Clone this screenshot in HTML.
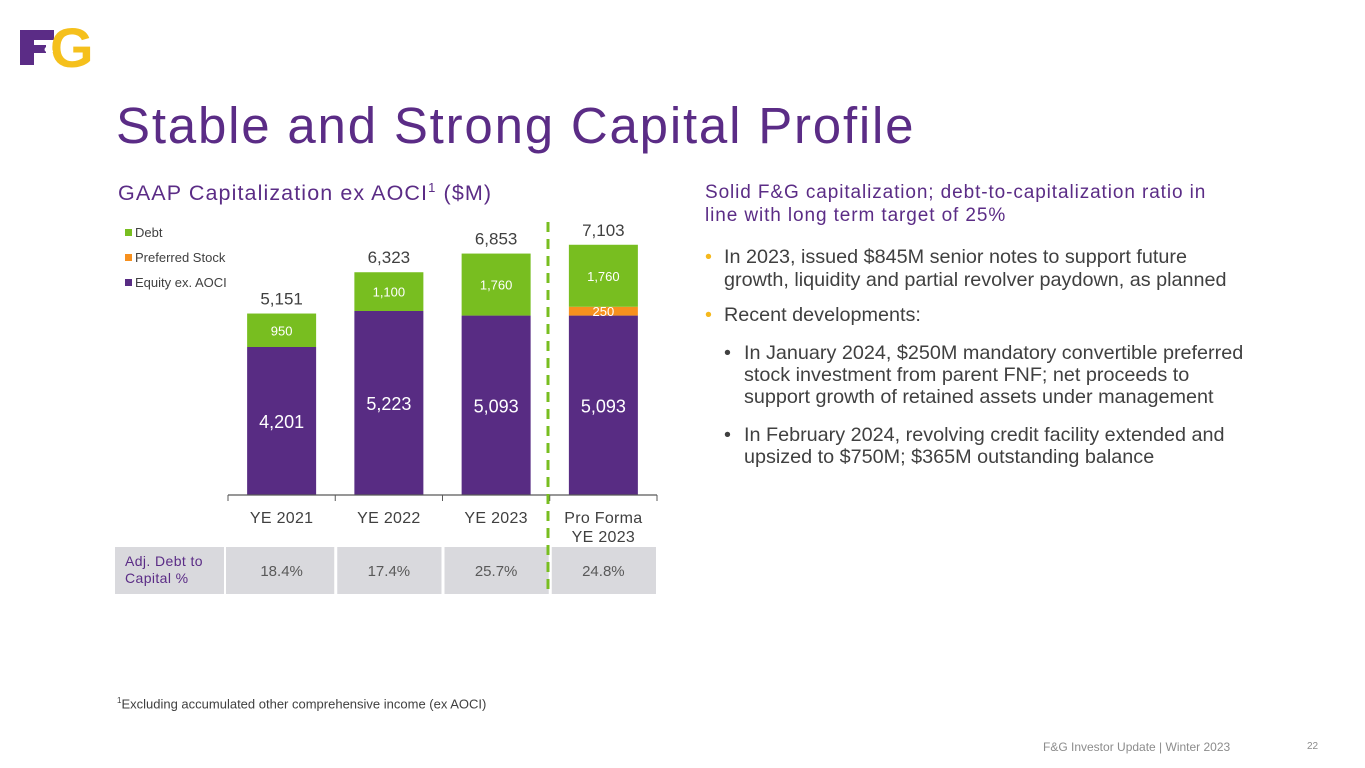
<!DOCTYPE html>
<html><head><meta charset="utf-8"><style>
body{margin:0;width:1365px;height:768px;background:#fff;position:relative;overflow:hidden;font-family:"Liberation Sans",sans-serif}
.a{position:absolute;white-space:nowrap}
.p{color:#5b2c86}
.g{color:#404040}
</style></head><body>
<div class="a" style="left:20px;top:14px;width:70px;height:54px">
 <div style="position:absolute;left:0;top:16px;width:14px;height:35px;background:#5b2c86"></div>
 <div style="position:absolute;left:0;top:16px;width:34px;height:10px;background:#5b2c86"></div>
 <div style="position:absolute;left:0;top:31px;width:26px;height:8px;background:#5b2c86"></div>
 <div style="position:absolute;left:30px;top:6px;font:bold 56px 'Liberation Sans',sans-serif;color:#f5c01c;line-height:56px">G</div>
 <div style="position:absolute;left:24px;top:26px;font:bold 13px 'Liberation Sans',sans-serif;color:#fff">&amp;</div>
</div>
<div class="a p" style="left:116px;top:96px;font-size:51px;letter-spacing:1.8px">Stable and Strong Capital Profile</div>
<div class="a p" style="left:118px;top:180px;font-size:21.5px;letter-spacing:1.1px">GAAP Capitalization ex AOCI<sup style="font-size:13px">1</sup> ($M)</div>

<svg class="a" style="left:0;top:0" width="700" height="620" id="chart"></svg>

<div class="a" style="left:115px;top:547px;width:541px;height:47px">
 <div class="a p" style="left:0;top:0;width:109px;height:47px;background:#d9d9dd;font-size:14px;line-height:17px;padding:6px 0 0 10px;box-sizing:border-box;white-space:normal;letter-spacing:0.4px">Adj. Debt to Capital %</div>
</div>

<div class="a p" style="left:705px;top:181px;font-size:19px;line-height:23px;letter-spacing:0.9px">Solid F&amp;G capitalization; debt-to-capitalization ratio in<br>line with long term target of 25%</div>
<div class="a" style="left:705px;top:246px;font-size:19.8px;line-height:23px"><span style="color:#f5b81c;position:absolute;left:0">•</span><span class="g" style="position:absolute;left:19px">In 2023, issued $845M senior notes to support future<br>growth, liquidity and partial revolver paydown, as planned</span></div>
<div class="a" style="left:705px;top:304px;font-size:19.8px;line-height:23px"><span style="color:#f5b81c;position:absolute;left:0">•</span><span class="g" style="position:absolute;left:19px">Recent developments:</span></div>
<div class="a" style="left:724px;top:342px;font-size:19.8px;line-height:22px"><span class="g" style="position:absolute;left:0">•</span><span class="g" style="position:absolute;left:20px">In January 2024, $250M mandatory convertible preferred<br>stock investment from parent FNF; net proceeds to<br>support growth of retained assets under management</span></div>
<div class="a" style="left:724px;top:424px;font-size:19.8px;line-height:22px"><span class="g" style="position:absolute;left:0">•</span><span class="g" style="position:absolute;left:20px">In February 2024, revolving credit facility extended and<br>upsized to $750M; $365M outstanding balance</span></div>

<div class="a g" style="left:117px;top:696px;font-size:13px"><sup style="font-size:8px">1</sup>Excluding accumulated other comprehensive income (ex AOCI)</div>
<div class="a" style="left:1043px;top:740px;font-size:12px;color:#8c8c8c">F&amp;G Investor Update | Winter 2023</div>
<div class="a" style="left:1307px;top:741px;font-size:10px;color:#8c8c8c">22</div>

<script>
const categories=["YE 2021","YE 2022","YE 2023","Pro Forma|YE 2023"];
const equity=[4201,5223,5093,5093];
const preferred=[0,0,0,250];
const debt=[950,1100,1760,1760];
const totals=["5,151","6,323","6,853","7,103"];
const ratios=["18.4%","17.4%","25.7%","24.8%"];
const NS="http://www.w3.org/2000/svg";
const svg=document.getElementById('chart');
const base=495,k=0.03523,x0=228,slot=107.25,bw=69;
const y=v=>base-v*k;
const xc=i=>x0+slot*(i+0.5);
function mk(t,a,txt){const e=document.createElementNS(NS,t);for(const n in a)e.setAttribute(n,a[n]);if(txt!=null)e.textContent=txt;svg.appendChild(e);return e;}
const fmt=v=>v.toLocaleString('en-US');
categories.forEach((c,i)=>{
  const cx=xc(i),l=cx-bw/2;
  let e=mk('rect',{x:l,y:y(equity[i]),width:bw,height:equity[i]*k,fill:'#582c83'});
  
  let top=equity[i];
  if(preferred[i]>0){
    e=mk('rect',{x:l,y:y(top+preferred[i]),width:bw,height:preferred[i]*k,fill:'#f7901e'});
    
    e=mk('text',{x:cx,y:y(top+preferred[i]/2)+5,'text-anchor':'middle','font-size':13,fill:'#fff'},fmt(preferred[i]));
    
    top+=preferred[i];
  }
  e=mk('rect',{x:l,y:y(top+debt[i]),width:bw,height:debt[i]*k,fill:'#78be20'});
  
  e=mk('text',{x:cx,y:y(top+debt[i]/2)+5,'text-anchor':'middle','font-size':13,fill:'#fff'},fmt(debt[i]));
  
  e=mk('text',{x:cx,y:y(equity[i]/2)+7,'text-anchor':'middle','font-size':18,fill:'#fff'},fmt(equity[i]));
  
  e=mk('text',{x:cx,y:y(top+debt[i])-9,'text-anchor':'middle','font-size':17,fill:'#404040'},totals[i]);
  
  const parts=c.split('|');
  parts.forEach((p,j)=>{
    e=mk('text',{x:cx,y:523+j*19,'text-anchor':'middle','font-size':16,fill:'#404040','letter-spacing':0.3},p);
    
  });
  e=mk('rect',{x:x0+slot*i+(i?2:-2),y:547,width:slot-(i?3:-1),height:47,fill:'#d9d9dd'});
  
  e=mk('text',{x:cx,y:576,'text-anchor':'middle','font-size':15,fill:'#595959'},ratios[i]);
  
});
let ax=mk('line',{x1:x0,y1:base,x2:x0+slot*4,y2:base,stroke:'#595959','stroke-width':1.2});

for(let i=0;i<=4;i++){const t=mk('line',{x1:x0+slot*i,y1:base,x2:x0+slot*i,y2:base+6,stroke:'#595959'});
}
const dl=mk('line',{x1:548,y1:222,x2:548,y2:593,stroke:'#78be20','stroke-width':3,'stroke-dasharray':'10,7'});

const leg=[["Debt","#78be20"],["Preferred Stock","#f7901e"],["Equity ex. AOCI","#582c83"]];
leg.forEach((l,i)=>{
  const r=mk('rect',{x:125,y:229+i*25,width:7,height:7,fill:l[1]});
  
  const t=mk('text',{x:135,y:237+i*25,'font-size':13,fill:'#404040'},l[0]);
  
});
</script>
</body></html>
